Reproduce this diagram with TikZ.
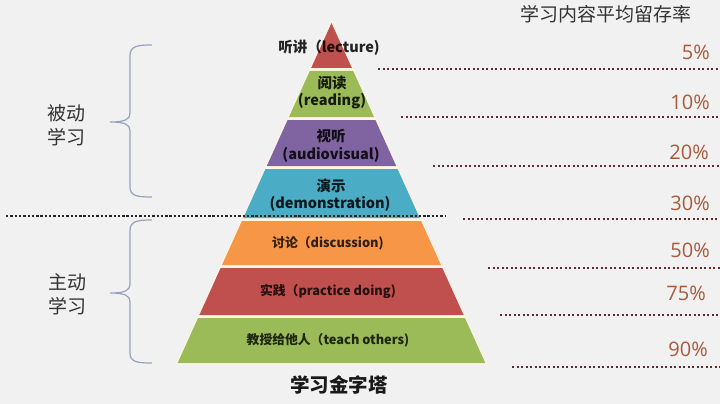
\documentclass[tikz,border=0pt]{standalone}
\usepackage{fontspec}
\setmainfont{Noto Sans CJK SC}
\newfontfamily\pctfont{Open Sans}
\definecolor{bgc}{HTML}{F1F1F1}
\definecolor{cream}{HTML}{FFF6E2}
\definecolor{lred}{HTML}{C0504D}
\definecolor{lgreen}{HTML}{9BBB59}
\definecolor{lpurple}{HTML}{8064A2}
\definecolor{lblue}{HTML}{4BACC6}
\definecolor{lorange}{HTML}{F79646}
\definecolor{pctc}{HTML}{A85A3C}
\definecolor{dotred}{HTML}{5E2A2C}
\definecolor{bracec}{HTML}{93A3BC}
\definecolor{txtc}{HTML}{333333}
\newcommand\pyrlayer[3]{%
  \pgfmathsetmacro\hwa{0.4525*(#1-23)}%
  \pgfmathsetmacro\hwb{0.4525*(#2-23)}%
  \fill[#3] ({331.5-\hwa},#1) -- ({331.5+\hwa},#1) -- ({331.5+\hwb},#2) -- ({331.5-\hwb},#2) -- cycle;}
\tikzset{
  bigl/.style={font=\bfseries\fontsize{14.5}{17}\selectfont, text=black, text opacity=0.85, inner sep=0pt},
  smalll/.style={font=\bfseries\fontsize{12.8}{14}\selectfont, text=black, text opacity=0.8, inner sep=0pt},
  pct/.style={font=\pctfont\fontsize{20}{22}\selectfont, text=pctc, anchor=east, inner sep=0pt},
  reddots/.style={dotred, line width=2.4pt, dash pattern=on 2.4pt off 2.1pt},
  blackdots/.style={black!85, line width=2.4pt, dash pattern=on 2.4pt off 1.9pt},
  bracestyle/.style={bracec, line width=1.2pt},
  sidelab/.style={font=\fontsize{19}{24}\selectfont, text=txtc, align=center, inner sep=0pt}
}
\begin{document}
\begin{tikzpicture}[x=1pt,y=-1pt]
\useasboundingbox (0,0) rectangle (720,404);
\fill[bgc] (0,0) rectangle (720,404);
% pyramid base (cream outline)
\fill[cream] (331.5,20.5) -- (487,364.5) -- (176,364.5) -- cycle;
\pyrlayer{23}{68}{lred}
\pyrlayer{71}{117}{lgreen}
\pyrlayer{120}{166}{lpurple}
\pyrlayer{169}{218}{lblue}
\pyrlayer{221}{265}{lorange}
\pyrlayer{268}{315}{lred}
\pyrlayer{318}{363}{lgreen}
% layer labels
\node[bigl] (t1) at (329,48) {听讲（lecture)};
\node[bigl] (t2a) at (332,83) {阅读};
\node[bigl] (t2b) at (332,101) {(reading)};
\node[bigl] (t3a) at (331,136) {视听};
\node[bigl] (t3b) at (331,155) {(audiovisual)};
\node[bigl] (t4a) at (331,186) {演示};
\node[bigl] (t4b) at (330,204) {(demonstration)};
\node[smalll] (t5) at (328,243) {讨论（discussion)};
\node[smalll] (t6) at (328,291) {实践（practice doing)};
\node[smalll] (t7) at (328,340) {教授给他人（teach others)};
\node[font=\bfseries\fontsize{19.5}{22}\selectfont, text=black!90, inner sep=0pt] (title) at (339,385) {学习金字塔};
% header
\node[font=\fontsize{19}{22}\selectfont, text=txtc, inner sep=0pt] (hdr) at (606,14) {学习内容平均留存率};
% percentages
\node[pct] (p1) at (710,52) {5\%};
\node[pct] (p2) at (710,102) {10\%};
\node[pct] (p3) at (709,152) {20\%};
\node[pct] (p4) at (710,203) {30\%};
\node[pct] (p5) at (710,250) {50\%};
\node[pct] (p6) at (706,293) {75\%};
\node[pct] (p7) at (708,349) {90\%};
% red dotted lines
\coordinate (r1a) at (378,69);  \coordinate (r1b) at (720,69);
\coordinate (r2a) at (401,117); \coordinate (r2b) at (720,117);
\coordinate (r3a) at (433,166); \coordinate (r3b) at (720,166);
\coordinate (r4a) at (463,219); \coordinate (r4b) at (720,219);
\coordinate (r5a) at (488,268); \coordinate (r5b) at (720,268);
\coordinate (r6a) at (500,315); \coordinate (r6b) at (720,315);
\coordinate (r7a) at (512,367); \coordinate (r7b) at (720,367);
\foreach \i in {1,...,7} \draw[reddots] (r\i a) -- (r\i b);
% black dotted separator
\coordinate (ba) at (6,216); \coordinate (bb) at (446,216);
\draw[blackdots] (ba) -- (bb);
% braces
\draw[bracestyle] (152,45) .. controls (137,45) and (130,46) .. (130,56) -- (130,113)
  .. controls (130,119) and (126,122) .. (110,122)
  .. controls (126,122) and (130,125) .. (130,131) -- (130,187)
  .. controls (130,196) and (137,197) .. (152,197);
\draw[bracestyle] (152,220) .. controls (137,220) and (130,221) .. (130,231) -- (130,284)
  .. controls (130,290) and (126,293) .. (110,293)
  .. controls (126,293) and (130,296) .. (130,302) -- (130,353)
  .. controls (130,362) and (137,363) .. (152,363);
% side labels
\node[sidelab] (s1) at (66,125) {被动\\学习};
\node[sidelab] (s2) at (67,294) {主动\\学习};
\end{tikzpicture}
\end{document}
